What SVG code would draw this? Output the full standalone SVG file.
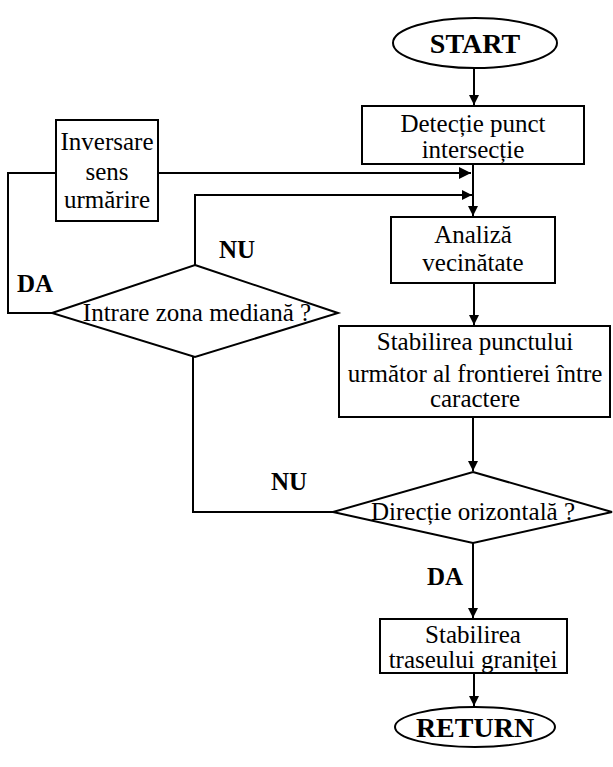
<svg xmlns="http://www.w3.org/2000/svg" width="613" height="767" viewBox="0 0 613 767">
  <defs>
    <marker id="arrow" viewBox="0 0 10 10" refX="10" refY="5" markerWidth="10" markerHeight="12" markerUnits="userSpaceOnUse" orient="auto">
      <path d="M0,0 L10,5 L0,10 z" fill="#000"/>
    </marker>
    <marker id="arrowBig" viewBox="0 0 10 10" refX="10" refY="5" markerWidth="12" markerHeight="18" markerUnits="userSpaceOnUse" orient="auto">
      <path d="M0,0 L10,5 L0,10 z" fill="#000"/>
    </marker>
    <style>
      .shape { fill: #fff; stroke: #000; stroke-width: 2; }
      .line { fill: none; stroke: #000; stroke-width: 2; }
      .txt { font-family: "Liberation Serif", "Times New Roman", serif; font-size: 25px; fill: #000; text-anchor: middle; }
      .term { font-family: "Liberation Serif", "Times New Roman", serif; font-size: 28px; font-weight: bold; fill: #000; text-anchor: middle; }
      .lbl { font-family: "Liberation Serif", "Times New Roman", serif; font-size: 25px; font-weight: bold; fill: #000; }
    </style>
  </defs>
  <rect width="613" height="767" fill="#fff"/>

  <!-- connectors -->
  <g id="connectors">
    <line class="line" x1="474" y1="68" x2="474" y2="105" marker-end="url(#arrow)"/>
    <line class="line" x1="473" y1="164" x2="473" y2="216" marker-end="url(#arrow)"/>
    <line class="line" x1="158" y1="173" x2="471" y2="173" marker-end="url(#arrowBig)"/>
    <polyline class="line" points="195,265 195,195 472,195" marker-end="url(#arrow)"/>
    <line class="line" x1="474" y1="283" x2="474" y2="325" marker-end="url(#arrow)"/>
    <line class="line" x1="473" y1="417" x2="473" y2="471" marker-end="url(#arrow)"/>
    <polyline class="line" points="333,512 193,512 193,357"/>
    <polyline class="line" points="52,313 8,313 8,173 56,173"/>
    <line class="line" x1="473" y1="543" x2="473" y2="618" marker-end="url(#arrow)"/>
    <line class="line" x1="474" y1="673" x2="474" y2="706" marker-end="url(#arrow)"/>
    <text class="lbl" x="219" y="258">NU</text>
    <text class="lbl" x="17" y="292">DA</text>
    <text class="lbl" x="271" y="490">NU</text>
    <text class="lbl" x="427" y="585">DA</text>
  </g>

  <g id="start">
    <ellipse class="shape" cx="475" cy="43" rx="82" ry="25"/>
    <text class="term" x="475" y="53">START</text>
  </g>

  <g id="detectie">
    <rect class="shape" x="362" y="106" width="222" height="58"/>
    <text class="txt" x="473" y="132">Detecție punct</text>
    <text class="txt" x="473" y="158">intersecție</text>
  </g>

  <g id="inversare">
    <rect class="shape" x="56" y="120" width="102" height="101"/>
    <text class="txt" x="107" y="150">Inversare</text>
    <text class="txt" x="107" y="180">sens</text>
    <text class="txt" x="107" y="208">urmărire</text>
  </g>

  <g id="analiza">
    <rect class="shape" x="391" y="217" width="164" height="66"/>
    <text class="txt" x="473" y="243">Analiză</text>
    <text class="txt" x="473" y="271">vecinătate</text>
  </g>

  <g id="intrare">
    <polygon class="shape" points="195,265 338,313 195,357 52,313"/>
    <text class="txt" x="197" y="321">Intrare zona mediană ?</text>
  </g>

  <g id="stabilire-punct">
    <rect class="shape" x="339" y="326" width="271" height="91"/>
    <text class="txt" x="475" y="350">Stabilirea punctului</text>
    <text class="txt" x="475" y="382">următor al frontierei între</text>
    <text class="txt" x="475" y="407">caractere</text>
  </g>

  <g id="directie">
    <polygon class="shape" points="473,472 612,512 473,543 333,512"/>
    <text class="txt" x="473" y="520">Direcție orizontală ?</text>
  </g>

  <g id="stabilire-traseu">
    <rect class="shape" x="380" y="619" width="187" height="54"/>
    <text class="txt" x="473" y="643">Stabilirea</text>
    <text class="txt" x="473" y="668">traseului graniței</text>
  </g>

  <g id="return">
    <ellipse class="shape" cx="475" cy="727" rx="80" ry="20"/>
    <text class="term" x="475" y="737">RETURN</text>
  </g>
</svg>
